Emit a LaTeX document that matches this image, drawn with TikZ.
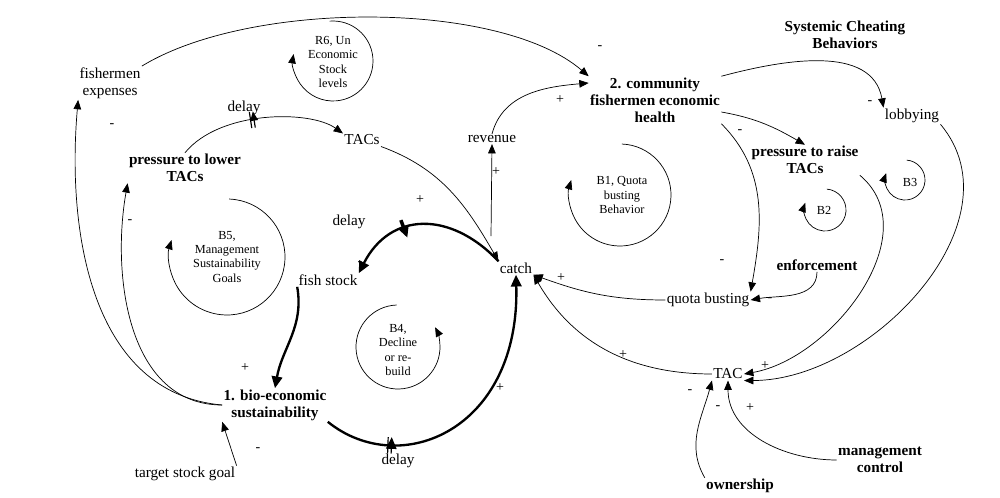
\documentclass[tikz,border=0pt]{standalone}
\usepackage{fontspec}
\setmainfont{Liberation Serif}
\usetikzlibrary{arrows.meta,decorations.markings}
\begin{document}
\begin{tikzpicture}[x=0.3mm,y=-0.3mm,
 t/.style={font=\fontsize{13}{14.5}\selectfont,align=center,inner sep=1pt},
 b/.style={t,font=\fontsize{13}{14.5}\selectfont\bfseries},
 s/.style={t,font=\fontsize{10.5}{12}\selectfont},
 l/.style={font=\fontsize{12}{13}\selectfont,inner sep=0pt},
 e/.style={-{Triangle[length=8pt,width=6.5pt]},line width=0.6pt},
 th/.style={-{Triangle[length=10pt,width=9pt]},line width=2pt},
 lp/.style={-{Triangle[length=8pt,width=6.5pt]},line width=0.6pt},
 dl/.style={postaction=decorate,decoration={markings,mark=at position #1 with {\draw[line width=1pt](-1.5pt,-7pt)--(-1.5pt,7pt)(1.5pt,-7pt)--(1.5pt,7pt);}}},
 dt/.style={postaction=decorate,decoration={markings,mark=at position #1 with {\draw[line width=3pt](0,-8pt)--(0,8pt);}}}]
\useasboundingbox (0,0) rectangle (1000,498);
\node[t] (fe) at (110,83) {fishermen\\expenses};
\node[b] (sys) at (845,35) {Systemic Cheating\\Behaviors};
\node[b] (com) at (655,100) {2. community\\fishermen economic\\health};
\node[t] (tacs) at (362,140) {TACs};
\node[t] (rev) at (492,139) {revenue};
\node[t] (lob) at (912,116) {lobbying};
\node[b] (pl) at (185,168) {pressure to lower\\TACs};
\node[b] (pr) at (805,160) {pressure to raise\\TACs};
\node[t] (fs) at (328,280) {fish stock};
\node[t] (catch) at (516,268) {catch};
\node[b] (enf) at (817,265) {enforcement};
\node[t] (qb) at (708,300) {quota busting};
\node[b] (sus) at (275,405) {1. bio-economic\\sustainability};
\node[t] (tac) at (728,374) {TAC};
\node[b] (mc) at (880,460) {management\\control};
\node[b] (own) at (740,486) {ownership};
\node[t] (tsg) at (185,474) {target stock goal};
\node[t] (d1) at (244,108) {delay};
\node[t] (d2) at (349,222) {delay};
\node[t] (d3) at (398,461) {delay};
% loops
\node[s] (r6) at (333,62) {R6, Un\\Economic\\Stock\\levels};
\draw[lp] (333,61) ++(-95:40) arc (-95:190:40);
\node[s] (b1) at (622,195) {B1, Quota\\busting\\Behavior};
\draw[lp] (620,195) ++(-88:51) arc (-88:197:51);
\node[s] (b5) at (227,257) {B5,\\Management\\Sustainability\\Goals};
\draw[lp] (227,257) ++(-88:58) arc (-88:197:58);
\node[s] (b4) at (398,350) {B4,\\Decline\\or re-\\build};
\draw[lp] (398,347) ++(268:42) arc (268:-28:42);
\node[s] (b2) at (824,210) {B2};
\draw[lp] (825,210) ++(-85:21) arc (-85:200:21);
\node[s] (b3) at (910,182) {B3};
\draw[lp] (905,180) ++(-85:20) arc (-85:200:20);
% edges
\draw[e] (fe.north east) .. controls (250,0) and (500,0) .. (com.north west);
\draw[e] (catch.north) ++(-25,-25) -- (rev.south);
\draw[e] (rev.north) to[out=75,in=185] (com.west |- 0,83);
\draw[e] (com.north east) to[out=15,in=100] (lob.north west);
\draw[e] (com.east |- 0,112) to[out=-10,in=150] (pr.north);
\draw[e] (com.south east) to[out=-45,in=80] (qb.north east);
\draw[e] (enf.south) to[out=-90,in=10] (qb.east);
\draw[e] (qb.west) to[out=180,in=-20] (catch.south east);
\draw[e] (tac.west) to[out=180,in=-60] (catch.south east);
\draw[e] (pr.south east) to[out=-40,in=10] (tac.east);
\draw[e] (lob.south east) to[out=-50,in=0] (tac.south east);
\draw[e] (own.north west) to[out=120,in=-105] (tac.south west);
\draw[e] (mc.west) to[out=180,in=-90] (tac.south);
\draw[e] (tsg.north east) -- (sus.south west);
\draw[e] (tacs.south east) to[out=-20,in=120] (catch.north west);
\draw[e,dl=0.45] (pl.north) .. controls (220,110) and (310,110) .. (tacs.north west);
\draw[e] (sus.west) to[out=180,in=-100] (pl.south west);
\draw[e] (sus.west) to[out=175,in=-95] (fe.south west);
\draw[th,dt=0.62] (catch.north west) .. controls (450,210) and (390,212) .. (fs.north east);
\draw[th] (fs.south west) to[out=-80,in=80] (sus.north);
\draw[th,dl=0.22] (sus.south east) .. controls (400,480) and (520,430) .. (catch.south);
% polarities
\foreach \x/\y/\s in {600/48/-,112/126/-,130/222/-,338/132/-,496/172/+,560/100/+,870/103/-,740/132/-,722/262/-,770/300/-,561/278/+,623/355/+,765/366/+,690/392/-,718/408/-,750/408/+,420/200/+,360/264/-,245/368/+,500/388/+,258/450/-}
  \node[l] at (\x,\y) {\s};
\end{tikzpicture}
\end{document}
